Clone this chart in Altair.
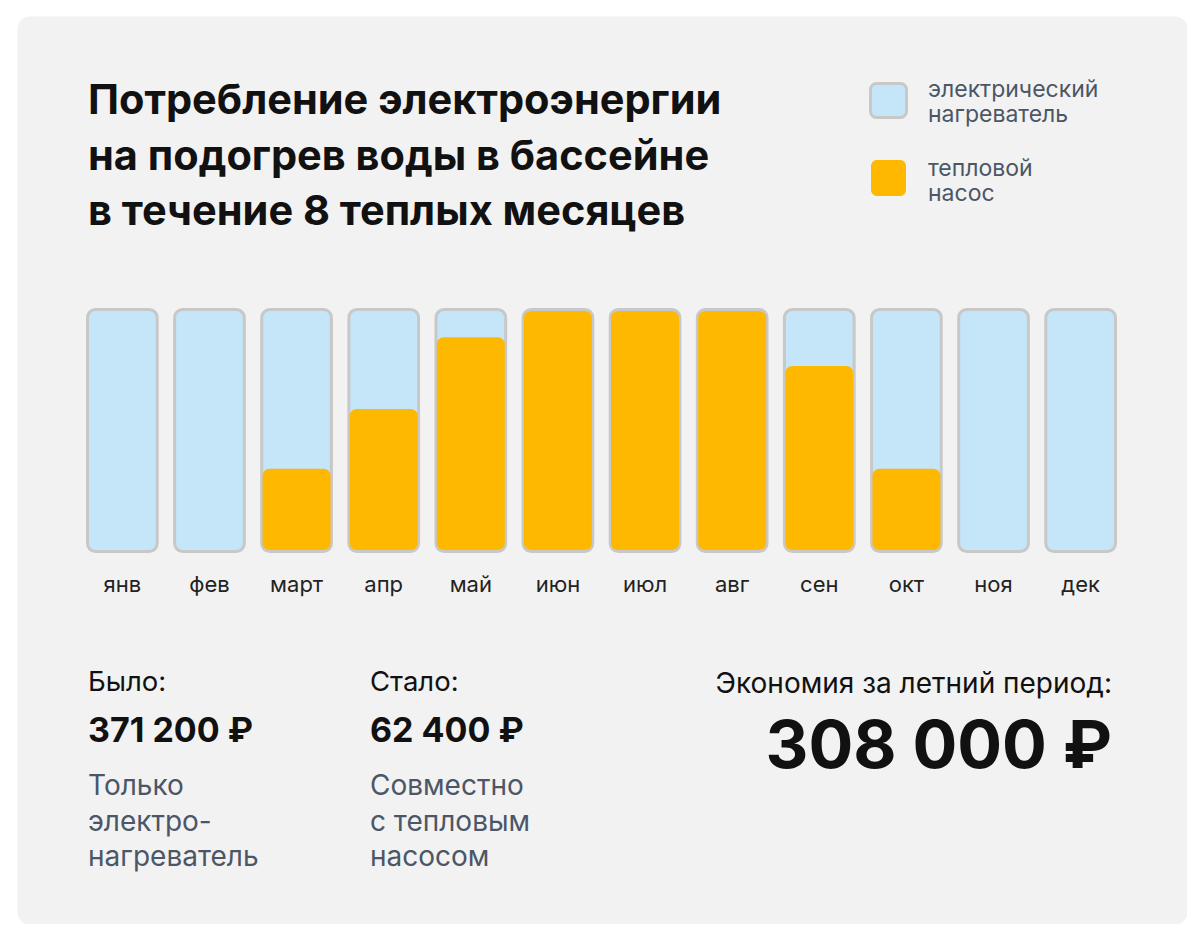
import altair as alt
import pandas as pd

# ---- data ----
months = ["янв", "фев", "март", "апр", "май", "июн", "июл", "авг", "сен", "окт", "ноя", "дек"]
electric_share = [1.0, 1.0, 1.0, 1.0, 1.0, 1.0, 1.0, 1.0, 1.0, 1.0, 1.0, 1.0]
heat_pump_share = [0.0, 0.0, 0.34, 0.59, 0.89, 1.0, 1.0, 1.0, 0.77, 0.34, 0.0, 0.0]

title_lines = ["Потребление электроэнергии", "на подогрев воды в бассейне", "в течение 8 теплых месяцев"]
legend_electric = ["электрический", "нагреватель"]
legend_pump = ["тепловой", "насос"]

was_label = "Было:"
was_value = "371 200 ₽"
was_note = ["Только", "электро-", "нагреватель"]
now_label = "Стало:"
now_value = "62 400 ₽"
now_note = ["Совместно", "с тепловым", "насосом"]
saving_label = "Экономия за летний период:"
saving_value = "308 000 ₽"

FONT = "Inter"
BLUE = "#C5E5F8"
ORANGE = "#FFB800"
STROKE = "#C8C8C8"
GRAY_TXT = "#4B5666"

df = pd.DataFrame({"month": months, "electric": electric_share, "heat_pump": heat_pump_share})

x_enc = alt.X("month:N", sort=months,
              scale=alt.Scale(range=[70.5, 1098.5], paddingInner=0.2, paddingOuter=0),
              axis=None)
y_scale = alt.Scale(domain=[0, 1], range=[534, 295])

base = alt.Chart(df)

bg_bars = base.mark_bar(fill=BLUE, stroke=STROKE, strokeWidth=3, cornerRadius=8,
                        yOffset=-1.5, y2Offset=1.5).encode(
    x=x_enc,
    y=alt.Y("electric:Q", scale=y_scale, axis=None),
    y2=alt.datum(0),
)

pump_bars = base.transform_filter("datum.heat_pump > 0").mark_bar(
    fill=ORANGE, cornerRadius=7, width=alt.RelativeBandSize(0.975)
).encode(
    x=x_enc,
    y=alt.Y("heat_pump:Q", scale=y_scale, axis=None),
    y2=alt.datum(0),
)

month_labels = base.mark_text(font=FONT, fontSize=22, color="#222222", align="center",
                              baseline="alphabetic").encode(
    x=x_enc,
    y=alt.value(576),
    text="month:N",
)


def text_layer(lines, x, y, size, weight="normal", color="#111111", align="left",
               line_height=None):
    props = dict(font=FONT, fontSize=size, fontWeight=weight, color=color, align=align,
                 baseline="alphabetic")
    if line_height is not None:
        props["lineHeight"] = line_height
    return alt.Chart(alt.Data(values=[{}])).mark_text(**props).encode(
        x=alt.value(x), y=alt.value(y), text=alt.value(lines)
    )


def swatch(x1, x2, y1, y2, fill, stroke=None):
    props = dict(fill=fill, cornerRadius=6)
    if stroke:
        props.update(stroke=stroke, strokeWidth=3)
    return alt.Chart(alt.Data(values=[{}])).mark_rect(**props).encode(
        x=alt.value(x1), x2=alt.value(x2), y=alt.value(y1), y2=alt.value(y2)
    )


layers = [
    bg_bars,
    pump_bars,
    month_labels,
    text_layer(title_lines, 71, 98, 41.5, "bold", "#111111", line_height=55.5),
    swatch(853.5, 889.5, 67.5, 101.5, BLUE, STROKE),
    swatch(854, 889, 144, 180, ORANGE),
    text_layer(legend_electric, 911, 81, 23, color=GRAY_TXT, line_height=25),
    text_layer(legend_pump, 911, 160, 23, color=GRAY_TXT, line_height=25),
    text_layer(was_label, 71, 675, 27.5),
    text_layer(was_value, 71, 726, 34, "bold"),
    text_layer(was_note, 71, 779, 28, color=GRAY_TXT, line_height=35.5),
    text_layer(now_label, 353, 675, 27.5),
    text_layer(now_value, 353, 726, 34, "bold"),
    text_layer(now_note, 353, 779, 28, color=GRAY_TXT, line_height=35.5),
    text_layer(saving_label, 1095, 677, 28, align="right"),
    text_layer(saving_value, 1095, 752, 66.5, "bold", align="right"),
]

chart = alt.layer(*layers).properties(
    width=1170,
    height=908,
    autosize=alt.AutoSizeParams(type="none"),
    padding={"left": 9, "top": 8, "right": 0, "bottom": 0},
    background="#FFFFFF",
).configure_view(
    fill="#F2F2F2", stroke="transparent", cornerRadius=12
)

chart.save("out.html", embed_options={"renderer": "svg", "actions": False})
